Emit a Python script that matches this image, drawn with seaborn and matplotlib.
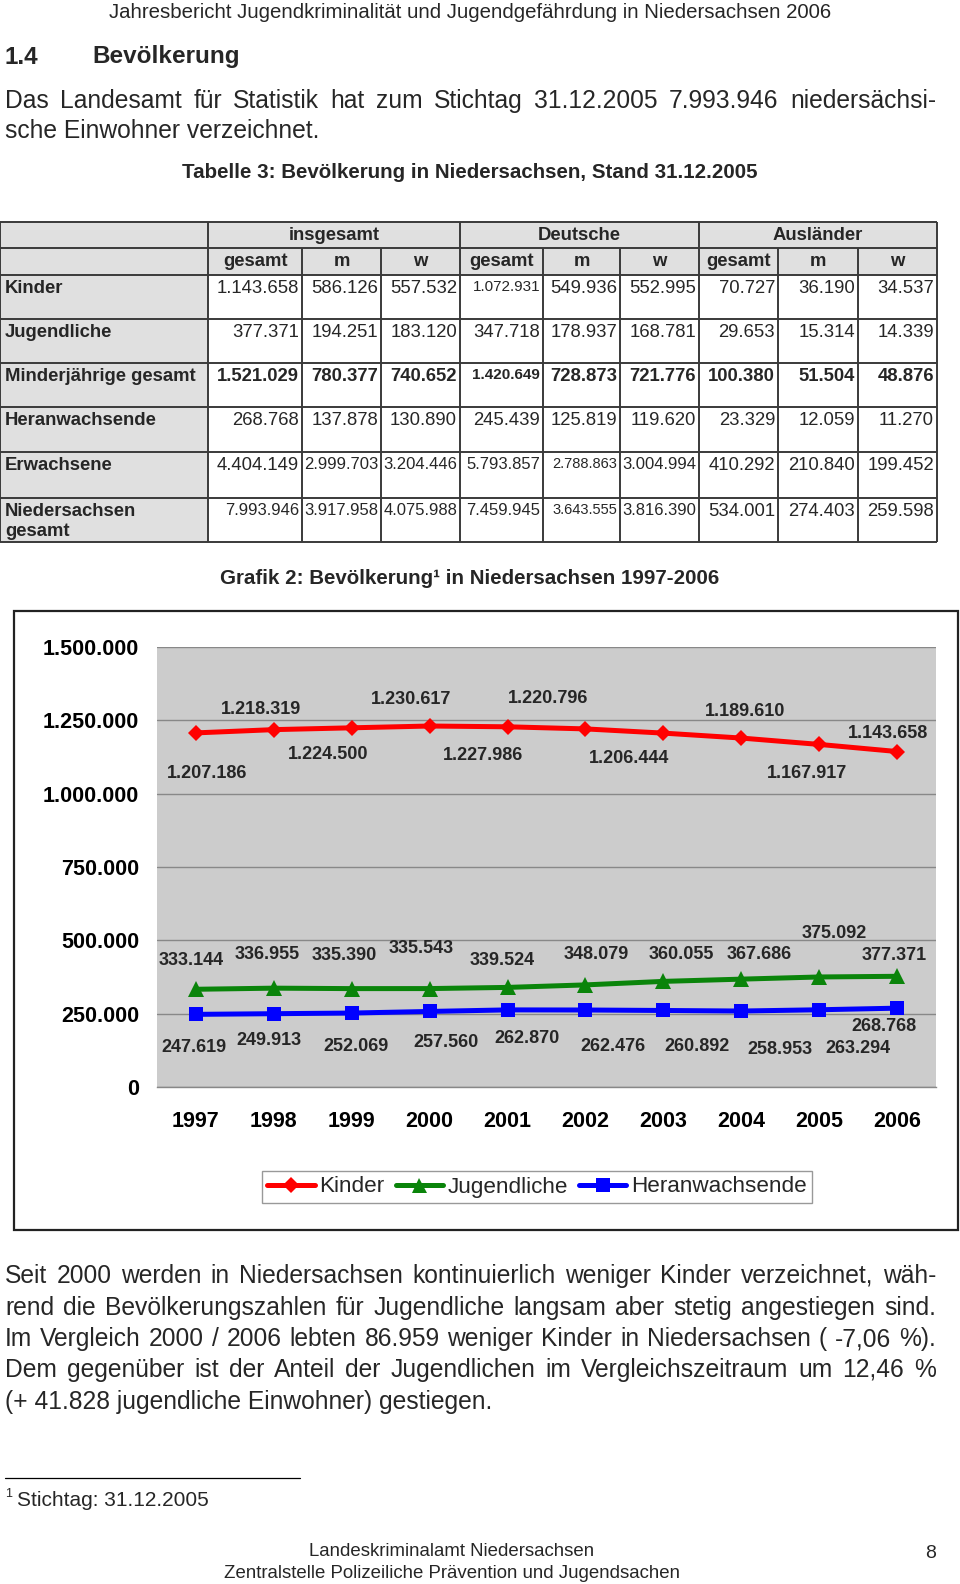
import numpy as np
import pandas as pd
import matplotlib
matplotlib.use("Agg")
import matplotlib.pyplot as plt
import seaborn as sns
from matplotlib.patches import Rectangle
from matplotlib.lines import Line2D

# ---------------- data ----------------
years = [1997, 1998, 1999, 2000, 2001, 2002, 2003, 2004, 2005, 2006]
kinder = [1207186, 1218319, 1224500, 1230617, 1227986, 1220796, 1206444, 1189610, 1167917, 1143658]
jugendliche = [333144, 336955, 335390, 335543, 339524, 348079, 360055, 367686, 375092, 377371]
heranwachsende = [247619, 249913, 252069, 257560, 262870, 262476, 260892, 258953, 263294, 268768]
y_ticks = [0, 250000, 500000, 750000, 1000000, 1250000, 1500000]

table_groups = ["insgesamt", "Deutsche", "Ausländer"]
table_subcols = ["gesamt", "m", "w"]
table_rows = ["Kinder", "Jugendliche", "Minderjährige gesamt", "Heranwachsende",
              "Erwachsene", "Niedersachsen\ngesamt"]
row_kinder = [1143658, 586126, 557532, 1072931, 549936, 552995, 70727, 36190, 34537]
row_jugendliche = [377371, 194251, 183120, 347718, 178937, 168781, 29653, 15314, 14339]
row_minderjaehrige = [1521029, 780377, 740652, 1420649, 728873, 721776, 100380, 51504, 48876]
row_heranwachsende = [268768, 137878, 130890, 245439, 125819, 119620, 23329, 12059, 11270]
row_erwachsene = [4404149, 2999703, 3204446, 5793857, 2788863, 3004994, 410292, 210840, 199452]
row_nds = [7993946, 3917958, 4075988, 7459945, 3643555, 3816390, 534001, 274403, 259598]

def de(v):
    return f"{v:,}".replace(",", ".")

# ---------------- style ----------------
sns.set_theme(style="white")
plt.rcParams['font.family'] = ['Liberation Sans', 'DejaVu Sans']

W, H = 960, 1584
fig = plt.figure(figsize=(W / 100, H / 100), dpi=100)
bg = fig.add_axes([0, 0, 1, 1], zorder=0)
bg.set_xlim(0, W)
bg.set_ylim(H, 0)
bg.axis('off')
renderer = fig.canvas.get_renderer()

BODY = 17.7

def justified(yc, text, left=5, right=936, size=BODY, just=True, weight='normal'):
    yb = yc + 8
    if not just:
        bg.text(left, yb, text, fontsize=size, va='baseline', ha='left', fontweight=weight)
        return
    words = text.split(' ')
    ts = [bg.text(0, yb, w, fontsize=size, va='baseline', ha='left', fontweight=weight) for w in words]
    ws = [t.get_window_extent(renderer).width for t in ts]
    gap = (right - left - sum(ws)) / (len(words) - 1)
    x = left
    for t, w in zip(ts, ws):
        t.set_x(x)
        x += w + gap

# page header
bg.text(470, 12, "Jahresbericht Jugendkriminalität und Jugendgefährdung in Niedersachsen 2006",
        fontsize=14.7, ha='center', va='center')
bg.text(5, 57, "1.4", fontsize=17.5, fontweight='bold', va='center')
bg.text(92, 57, "Bevölkerung", fontsize=17.5, fontweight='bold', va='center')
justified(100, "Das Landesamt für Statistik hat zum Stichtag 31.12.2005 7.993.946 niedersächsi-")
justified(130, "sche Einwohner verzeichnet.", just=False)
bg.text(470, 172, "Tabelle 3: Bevölkerung in Niedersachsen, Stand 31.12.2005",
        fontsize=14.8, fontweight='bold', ha='center', va='center')

# ---------------- table ----------------
col_edges = [0, 208, 302, 381, 460, 543, 620, 699, 778, 858, 937]
row_edges = [222, 248, 275, 319, 363, 407, 452, 498, 542]
shade = '#e0e0e0'
lc = '#3a3a3a'
tlw = 1.4
bg.add_patch(Rectangle((0, row_edges[0]), col_edges[-1], row_edges[2] - row_edges[0],
                       fc=shade, ec='none', zorder=1))
bg.add_patch(Rectangle((0, row_edges[2]), col_edges[1], row_edges[-1] - row_edges[2],
                       fc=shade, ec='none', zorder=1))
for y in row_edges:
    bg.plot([0, col_edges[-1]], [y, y], color=lc, lw=tlw, zorder=2, solid_capstyle='butt')
for i, x in enumerate(col_edges):
    y0 = row_edges[0] if i in (0, 1, 4, 7, 10) else row_edges[1]
    bg.plot([x, x], [y0, row_edges[-1]], color=lc, lw=tlw, zorder=2, solid_capstyle='butt')

tfs = 13.3
for g, name in enumerate(table_groups):
    xa, xb = col_edges[1 + 3 * g], col_edges[4 + 3 * g]
    bg.text((xa + xb) / 2, 235, name, fontsize=tfs, fontweight='bold', ha='center', va='center', zorder=3)
    for k, sc in enumerate(table_subcols):
        xa2, xb2 = col_edges[1 + 3 * g + k], col_edges[2 + 3 * g + k]
        bg.text((xa2 + xb2) / 2, 262, sc, fontsize=tfs, fontweight='bold', ha='center', va='center', zorder=3)

all_rows = [row_kinder, row_jugendliche, row_minderjaehrige, row_heranwachsende, row_erwachsene, row_nds]
size_map = {(0, 3): 11, (2, 3): 11, (4, 1): 12, (4, 2): 12, (4, 3): 12, (4, 4): 10.5, (4, 5): 12,
            (5, 0): 12, (5, 1): 12, (5, 2): 12, (5, 3): 12, (5, 4): 10.5, (5, 5): 12}
for r, (lab, vals) in enumerate(zip(table_rows, all_rows)):
    top = row_edges[2 + r]
    wt = 'bold' if r == 2 else 'normal'
    if "\n" in lab:
        l1, l2 = lab.split("\n")
        bg.text(5, top + 13, l1, fontsize=tfs, fontweight='bold', va='center', zorder=3)
        bg.text(5, top + 34, l2, fontsize=tfs, fontweight='bold', va='center', zorder=3)
    else:
        bg.text(5, top + 13.5, lab, fontsize=tfs, fontweight='bold', va='center', zorder=3)
    for c, v in enumerate(vals):
        fs = size_map.get((r, c), tfs)
        dy = 13.5 - (tfs - fs) * 0.6
        bg.text(col_edges[c + 2] - 3, top + dy, de(v), fontsize=fs, fontweight=wt,
                ha='right', va='center', zorder=3)

bg.text(470, 578, "Grafik 2: Bevölkerung¹ in Niedersachsen 1997-2006",
        fontsize=14.8, fontweight='bold', ha='center', va='center')

# chart frame
bg.add_patch(Rectangle((14, 611), 944, 619, fill=False, ec='#222222', lw=1.6, zorder=1))

# ---------------- chart ----------------
L, R, T, B = 157, 936, 647, 1087
ax = fig.add_axes([L / W, 1 - B / H, (R - L) / W, (B - T) / H], zorder=2)
ax.set_facecolor('#cccccc')

pos = list(range(len(years)))
series = [
    ("Kinder", kinder, '#ff0000', 'D', 8.5),
    ("Jugendliche", jugendliche, '#0a840a', '^', 12),
    ("Heranwachsende", heranwachsende, '#0000ff', 's', 10.5),
]
for name, vals, col, mk, ms in series:
    df = pd.DataFrame({"pos": pos, "value": vals})
    sns.lineplot(data=df, x="pos", y="value", ax=ax, color=col, lw=3.6, marker=mk,
                 markersize=ms, markeredgewidth=0, markeredgecolor=col, zorder=3)

ax.set_xlim(-0.5, len(years) - 0.5)
ax.set_ylim(y_ticks[0], y_ticks[-1])
ax.set_yticks(y_ticks)
ax.set_yticklabels([de(v) for v in y_ticks], fontsize=15.5, fontweight='bold')
ax.set_xticks(pos)
ax.set_xticklabels([str(y) for y in years], fontsize=15.5, fontweight='bold')
ax.set_xticks(np.arange(-0.5, len(years), 1), minor=True)
ax.tick_params(axis='x', which='major', length=0, pad=17.5)
ax.tick_params(axis='x', which='minor', length=4.3, color='#888888', width=1, direction='out')
ax.tick_params(axis='y', which='major', length=4.3, color='#888888', width=1, pad=8.6, direction='out')
ax.tick_params(axis='both', colors='#888888', labelcolor='black')
ax.grid(axis='y', color='#888888', lw=1)
ax.grid(axis='x', visible=False)
ax.set_axisbelow(True)
ax.set_xlabel("")
ax.set_ylabel("")
for s in ['left', 'right', 'top']:
    ax.spines[s].set_visible(False)
ax.spines['bottom'].set_color('#888888')
ax.spines['bottom'].set_linewidth(1)

kinder_off = [(11, 39), (-13, -22), (-24, 25), (-19, -29), (-25, 27), (-37, -32), (-34, 23), (4, -29), (-12, 27), (-9, -20)]
jug_off = [(-5, -31), (-7, -36), (-7, -35), (-8, -42), (-5, -29), (11, -32), (18, -29), (18, -27), (15, -45), (-3, -23)]
her_off = [(-2, 31), (-5, 25), (4, 31), (16, 29), (19, 27), (27, 34), (34, 34), (39, 36), (39, 37), (-13, 16)]
for vals, offs in [(kinder, kinder_off), (jugendliche, jug_off), (heranwachsende, her_off)]:
    for i, (v, (dx, dy)) in enumerate(zip(vals, offs)):
        ax.annotate(de(v), (i, v), xytext=(dx, -dy - 2), textcoords='offset pixels',
                    ha='center', va='center', fontsize=13, fontweight='bold', zorder=5)

handles = [Line2D([], [], color=c, lw=3.6, marker=m, markersize=ms * 0.9, markeredgewidth=0)
           for _, _, c, m, ms in series]
leg = fig.legend(handles, [s[0] for s in series], loc='center',
                 bbox_to_anchor=(537 / W, 1 - 1187 / H), ncol=3, frameon=True,
                 fancybox=False, edgecolor='#999999', fontsize=16.2, handlelength=2.1,
                 handletextpad=0.2, columnspacing=0.5, borderpad=0.25, borderaxespad=0,
                 framealpha=1)
leg.get_frame().set_linewidth(1)

# ---------------- lower text ----------------
justified(1275, "Seit 2000 werden in Niedersachsen kontinuierlich weniger Kinder verzeichnet, wäh-")
justified(1307, "rend die Bevölkerungszahlen für Jugendliche langsam aber stetig angestiegen sind.")
justified(1338, "Im Vergleich 2000 / 2006 lebten 86.959 weniger Kinder in Niedersachsen ( -7,06 %).")
justified(1369, "Dem gegenüber ist der Anteil der Jugendlichen im Vergleichszeitraum um 12,46 %")
justified(1401, "(+ 41.828 jugendliche Einwohner) gestiegen.", just=False)

bg.plot([5, 300], [1478, 1478], color='black', lw=0.9)
bg.text(5, 1494, "1", fontsize=9, va='center')
bg.text(17, 1500, "Stichtag: 31.12.2005", fontsize=15, va='center')
bg.text(452, 1551, "Landeskriminalamt Niedersachsen", fontsize=13.4, ha='center', va='center')
bg.text(452, 1573, "Zentralstelle Polizeiliche Prävention und Jugendsachen", fontsize=13.4,
        ha='center', va='center')
bg.text(931, 1553, "8", fontsize=14, ha='center', va='center')

fig.savefig("out.png", dpi=100)
